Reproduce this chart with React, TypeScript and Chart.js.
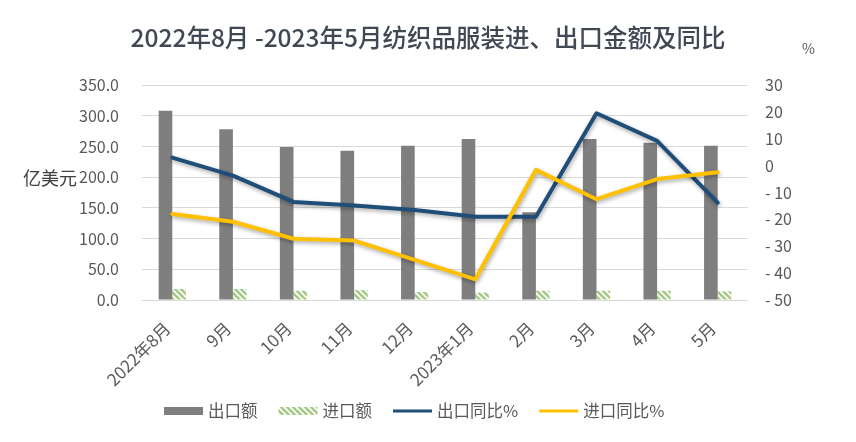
import React, { useEffect, useRef } from "react";
import { Chart, registerables } from "chart.js";

Chart.register(...registerables);

const TITLE = "2022年8月 -2023年5月纺织品服装进、出口金额及同比";
const categories = ["2022年8月", "9月", "10月", "11月", "12月", "2023年1月", "2月", "3月", "4月", "5月"];
const exportValues = [308, 278, 249, 243, 251, 262, 143, 262, 256, 251];
const importValues = [18, 18, 15, 16, 13, 12, 15, 15, 15, 14];
const exportYoY = [3.0, -3.7, -13.5, -14.8, -16.5, -19.0, -19.0, 19.5, 9.2, -13.8];
const importYoY = [-18.0, -20.9, -27.2, -27.9, -35.1, -42.3, -1.6, -12.5, -5.0, -2.5];
const seriesNames = ["出口额", "进口额", "出口同比%", "进口同比%"];

const FONT = '"Noto Sans CJK SC", "Noto Sans", sans-serif';
const GRAY = "#7f7f7f";
const BLUE = "#1f4e79";
const GOLD = "#ffc000";
const TICK = "#595959";

function makeHatch(): CanvasPattern | string {
  const c = document.createElement("canvas");
  c.width = 6;
  c.height = 6;
  const g = c.getContext("2d");
  if (!g) return "#a9d18e";
  g.fillStyle = "#f2f8ec";
  g.fillRect(0, 0, 6, 6);
  g.strokeStyle = "#9cc47c";
  g.lineWidth = 2;
  g.beginPath();
  g.moveTo(-1, -1);
  g.lineTo(7, 7);
  g.moveTo(-4, 2);
  g.lineTo(4, 10);
  g.moveTo(2, -4);
  g.lineTo(10, 4);
  g.stroke();
  const p = g.createPattern(c, "repeat");
  return p || "#a9d18e";
}

export default function App() {
  const ref = useRef<HTMLCanvasElement | null>(null);

  useEffect(() => {
    if (!ref.current) return;
    const hatch = makeHatch();

    const shadow = {
      id: "lineShadow",
      beforeDatasetDraw(chart: any, args: any) {
        const ds = chart.data.datasets[args.index];
        if (ds.type === "line") {
          const ctx = chart.ctx;
          ctx.save();
          ctx.shadowColor = "rgba(0,0,0,0.35)";
          ctx.shadowBlur = 4;
          ctx.shadowOffsetX = 1;
          ctx.shadowOffsetY = 2;
        }
      },
      afterDatasetDraw(chart: any, args: any) {
        const ds = chart.data.datasets[args.index];
        if (ds.type === "line") chart.ctx.restore();
      },
    };

    const overlay = {
      id: "overlay",
      afterDraw(chart: any) {
        const ctx = chart.ctx;
        ctx.save();
        ctx.fillStyle = "#404854";
        ctx.font = `500 24.5px ${FONT}`;
        ctx.textAlign = "center";
        ctx.textBaseline = "middle";
        ctx.fillText(TITLE, chart.width / 2, 38);

        ctx.fillStyle = "#404040";
        ctx.font = `18px ${FONT}`;
        ctx.textAlign = "left";
        ctx.fillText("亿美元", 23, 178);

        ctx.fillStyle = TICK;
        ctx.font = `14px ${FONT}`;
        ctx.fillText("%", 802, 49);

        // legend
        ctx.font = `16.5px ${FONT}`;
        let x = 164;
        const y = 411;
        const boxW = 39;
        seriesNames.forEach((name, i) => {
          if (i === 0) {
            ctx.fillStyle = GRAY;
            ctx.fillRect(x, y - 4, boxW, 8);
          } else if (i === 1) {
            ctx.fillStyle = hatch;
            ctx.fillRect(x, y - 4, boxW, 8);
          } else {
            ctx.strokeStyle = i === 2 ? BLUE : GOLD;
            ctx.lineWidth = 3;
            ctx.beginPath();
            ctx.moveTo(x, y);
            ctx.lineTo(x + boxW, y);
            ctx.stroke();
          }
          x += boxW + 5;
          ctx.fillStyle = TICK;
          ctx.textAlign = "left";
          ctx.fillText(name, x, y);
          x += ctx.measureText(name).width + 21;
        });
        ctx.restore();
      },
    };

    const chart = new Chart(ref.current, {
      type: "bar",
      data: {
        labels: categories,
        datasets: [
          {
            type: "bar",
            label: seriesNames[0],
            data: exportValues,
            backgroundColor: GRAY,
            yAxisID: "y",
            order: 2,
            categoryPercentage: 0.45,
            barPercentage: 1.0,
          },
          {
            type: "bar",
            label: seriesNames[1],
            data: importValues,
            backgroundColor: hatch as any,
            yAxisID: "y",
            order: 2,
            categoryPercentage: 0.45,
            barPercentage: 1.0,
          },
          {
            type: "line",
            label: seriesNames[2],
            data: exportYoY,
            borderColor: BLUE,
            backgroundColor: BLUE,
            borderWidth: 4,
            pointRadius: 0,
            tension: 0,
            yAxisID: "y1",
            order: 1,
            borderJoinStyle: "round",
            borderCapStyle: "round",
          } as any,
          {
            type: "line",
            label: seriesNames[3],
            data: importYoY,
            borderColor: GOLD,
            backgroundColor: GOLD,
            borderWidth: 4,
            pointRadius: 0,
            tension: 0,
            yAxisID: "y1",
            order: 0,
            borderJoinStyle: "round",
            borderCapStyle: "round",
          } as any,
        ],
      },
      options: {
        animation: false,
        responsive: true,
        maintainAspectRatio: false,
        layout: { padding: { top: 85, left: 0, right: 0, bottom: 0 } },
        plugins: {
          legend: { display: false },
          title: { display: false },
          tooltip: { enabled: false },
        },
        scales: {
          x: {
            grid: { display: false },
            border: { display: false },
            ticks: {
              autoSkip: false,
              maxRotation: 45,
              minRotation: 45,
              padding: 10,
              labelOffset: -5,
              color: TICK,
              font: { family: FONT, size: 17 },
            },
            afterFit(scale: any) {
              scale.height = 142;
            },
          },
          y: {
            position: "left",
            min: 0,
            max: 350,
            grid: { color: "#d9d9d9", lineWidth: 1, drawTicks: false },
            border: { display: false },
            ticks: {
              stepSize: 50,
              padding: 23,
              color: TICK,
              font: { family: FONT, size: 16 },
              callback: (v: any) => Number(v).toFixed(1),
            },
            afterFit(scale: any) {
              scale.width = 142;
            },
          },
          y1: {
            position: "right",
            min: -50,
            max: 30,
            grid: { display: false, drawTicks: false },
            border: { display: false },
            ticks: {
              stepSize: 10,
              padding: 17,
              color: TICK,
              font: { family: FONT, size: 16 },
              callback: (v: any) => (Number(v) < 0 ? "- " + Math.abs(Number(v)) : String(v)),
            },
            afterFit(scale: any) {
              scale.width = 108;
            },
          },
        },
      } as any,
      plugins: [shadow, overlay],
    });
    return () => chart.destroy();
  }, []);

  return (
    <div style={{ position: "absolute", left: 0, top: 0, width: 856, height: 442, background: "#fff" }}>
      <canvas ref={ref} />
    </div>
  );
}
